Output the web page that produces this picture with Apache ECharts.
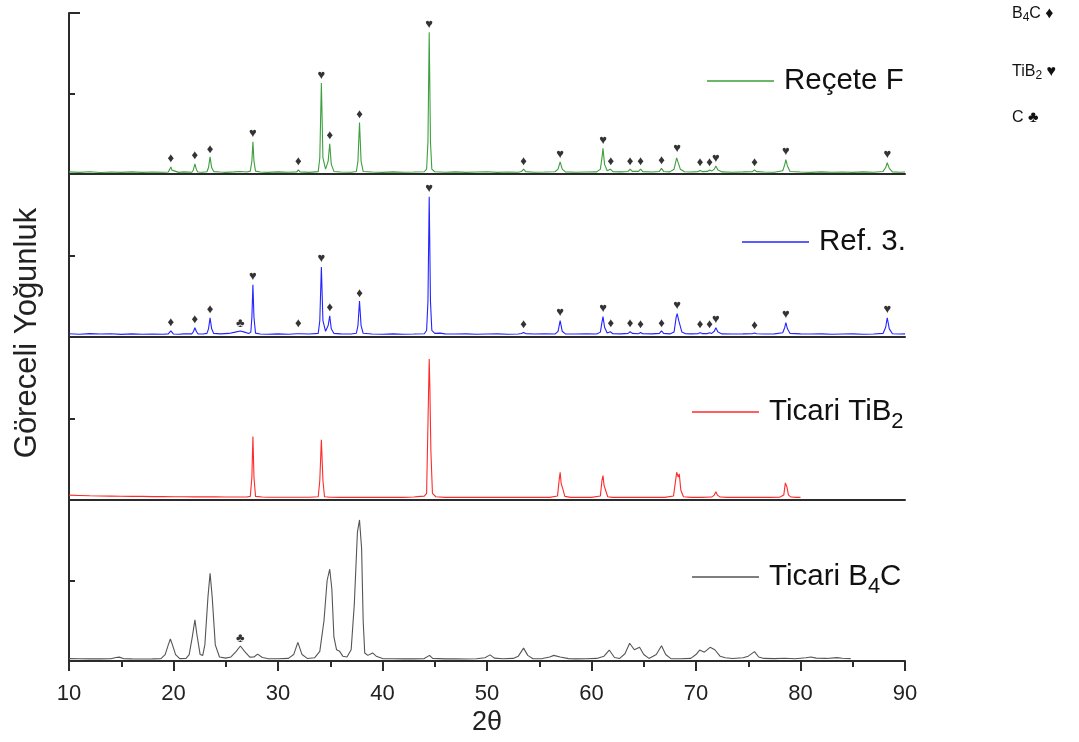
<!DOCTYPE html>
<html>
<head>
<meta charset="utf-8">
<script src="https://cdn.jsdelivr.net/npm/echarts@6/dist/echarts.min.js"></script>
<style>
  html, body { margin: 0; padding: 0; background: #fff; }
  #chart { width: 1079px; height: 742px; }
</style>
</head>
<body>
<div id="chart"></div>
<script>
// XRD patterns: [2θ, relative intensity (% of panel height)]
const recipeF = [
  [10,1.3],[11,1.0],[12,1.4],[13,0.9],[14,1.2],[15,1.0],[16,1.3],[17,1.0],[18,1.2],[19,1.1],
  [19.5,1.2],[19.65,2.4],[19.75,4.4],[19.85,2.4],[20.0,1.2],[20.5,1.0],[21,1.3],[21.75,1.1],
  [21.9,2.5],[22.05,6.3],[22.2,2.5],[22.35,1.2],[22.8,1.1],[23.2,1.4],[23.35,4.0],[23.5,10.6],
  [23.65,4.0],[23.85,1.5],[24.5,1.2],[25,1.0],[25.8,1.3],[26.4,1.6],[27,1.2],[27.35,1.8],
  [27.5,8],[27.6,20],[27.7,8],[27.85,1.8],[28.3,1.2],[29,1.0],[30,1.3],[31,1.1],[31.8,1.3],
  [31.95,2.6],[32.1,1.3],[33,1.0],[33.85,1.5],[34.0,10],[34.15,56.5],[34.3,10],[34.55,3],
  [34.8,8],[34.95,18.8],[35.1,6],[35.35,1.6],[36,1.2],[37,1.1],[37.5,1.6],[37.65,8],[37.8,32],
  [37.95,8],[38.15,1.6],[39,1.2],[40,1.0],[41,1.3],[42,1.1],[43,1.2],[44,1.4],[44.22,3],
  [44.35,20],[44.47,88],[44.59,20],[44.72,3],[45,1.4],[46,1.1],[47,1.3],[48,1.0],[49,1.2],
  [50,1.4],[51,1.0],[52,1.2],[53,1.1],[53.3,1.5],[53.5,3],[53.7,1.5],[54.5,1.1],[55.5,1.2],
  [56.5,1.4],[56.8,3],[57.0,7.5],[57.2,3],[57.5,1.3],[58.5,1.1],[59.5,1.2],[60.5,1.3],
  [60.85,3],[61.0,10],[61.1,16],[61.25,6],[61.5,2],[61.8,3],[62.05,1.5],[62.8,1.3],[63.5,1.6],
  [63.7,3],[63.9,1.6],[64.5,1.6],[64.7,3],[64.9,1.5],[65.8,1.2],[66.5,1.6],[66.7,3.5],
  [66.9,1.6],[67.5,1.3],[67.9,3],[68.15,10],[68.3,11],[68.5,3],[68.9,1.4],[69.5,1.2],
  [70.2,1.5],[70.4,2.2],[70.6,1.5],[71.1,1.6],[71.3,2.5],[71.5,1.8],[71.75,3],[71.9,5],
  [72.1,2.5],[72.5,1.3],[73.5,1.1],[74.5,1.3],[75.4,1.5],[75.6,2.5],[75.8,1.5],[76.5,1.2],
  [77.5,1.1],[78.3,2],[78.5,6],[78.6,9],[78.75,5],[79.0,1.6],[80,1.2],[81,1.0],[82,1.3],
  [83,1.1],[84,1.2],[85,1.0],[86,1.3],[87,1.1],[87.9,1.6],[88.15,4],[88.3,7],[88.5,3.5],
  [88.8,1.3],[89.5,1.1],[90,1.2]
];

const ref3 = [
  [10,2.0],[11,1.7],[12,2.1],[13,1.8],[14,2.0],[15,1.6],[16,1.9],[17,1.7],[18,1.8],[19,1.7],
  [19.5,1.9],[19.65,2.8],[19.75,3.8],[19.85,2.8],[20.0,1.8],[20.5,1.7],[21,1.9],[21.75,1.9],
  [21.9,3.2],[22.05,5.7],[22.2,3.2],[22.35,1.9],[22.8,1.8],[23.2,2.2],[23.35,5],[23.5,11.8],
  [23.65,5],[23.85,2.2],[24.5,1.9],[25.3,2.2],[25.9,3.0],[26.4,3.7],[26.8,3.0],[27.2,2.2],
  [27.4,3],[27.5,12],[27.6,32],[27.7,12],[27.85,2.4],[28.3,1.8],[29,1.7],[30,1.9],[31,1.7],
  [31.8,2],[31.95,3.2],[32.1,2],[33,1.8],[33.85,2.2],[34.0,10],[34.15,43],[34.3,10],[34.55,3.5],
  [34.8,7],[34.95,13],[35.1,5],[35.35,2.2],[36,1.9],[37,1.8],[37.5,2.3],[37.65,7],[37.8,22],
  [37.95,7],[38.15,2.3],[39,1.8],[40,1.7],[41,1.9],[42,1.7],[43,1.8],[44,2],[44.22,4],
  [44.35,22],[44.47,86],[44.59,22],[44.72,4],[45,2.2],[45.5,2.4],[46,1.9],[47,1.8],[48,1.9],
  [49,1.7],[50,1.8],[51,1.9],[52,1.7],[53,1.8],[53.3,2.1],[53.5,2.8],[53.7,2.1],[54.5,1.8],
  [55.5,1.9],[56.5,1.8],[56.8,3.5],[57.0,10],[57.2,3.5],[57.5,1.9],[58.5,1.8],[59.5,1.9],
  [60.5,1.8],[60.85,3],[61.0,9],[61.1,12.5],[61.25,6],[61.5,2.5],[61.8,3.2],[62.05,2],
  [62.8,1.9],[63.5,2.2],[63.7,3.2],[63.9,2.2],[64.5,2],[64.7,2.8],[64.9,2],[65.8,1.9],
  [66.5,2.2],[66.7,3.7],[66.9,2.2],[67.5,1.9],[67.9,3],[68.1,12],[68.2,14.3],[68.35,10],
  [68.45,11],[68.65,3],[69,2],[69.5,1.9],[70.2,2.1],[70.4,2.6],[70.6,2.1],[71.1,2.1],
  [71.3,2.6],[71.5,2.2],[71.75,3.5],[71.9,5.7],[72.1,3],[72.5,1.9],[73.5,1.8],[74.5,1.9],
  [75.4,2],[75.6,2.4],[75.8,2],[76.5,1.8],[77.5,1.9],[78.3,2.6],[78.5,6],[78.6,8.8],
  [78.75,5],[79.0,2.2],[80,1.9],[81,1.8],[82,1.9],[83,1.7],[84,1.8],[85,1.9],[86,1.7],
  [87,1.8],[87.9,2.2],[88.15,6],[88.3,11.8],[88.5,5],[88.8,2],[89.5,1.8],[90,1.9]
];

const ticariTiB2 = [
  [10,3.0],[11,2.8],[12,2.6],[13,2.5],[14,2.4],[15,2.3],[16,2.2],[17,2.2],[18,2.1],[19,2.1],
  [20,2.0],[21,2.0],[22,1.9],[23,1.9],[24,1.9],[25,1.8],[26,1.8],[27,1.8],[27.35,2.2],
  [27.5,14],[27.6,39],[27.7,14],[27.85,2.2],[28.5,1.8],[29,1.7],[30,1.7],[31,1.7],[32,1.7],
  [33,1.7],[33.85,2],[34.0,12],[34.15,37],[34.3,12],[34.45,2],[35,1.7],[36,1.6],[37,1.6],
  [38,1.6],[39,1.6],[40,1.6],[41,1.6],[42,1.6],[43,1.8],[43.6,2.2],[44.0,2.4],[44.22,4],
  [44.36,50],[44.47,86.5],[44.53,70],[44.63,30],[44.78,4],[45.1,2],[46,1.6],[47,1.6],
  [48,1.6],[49,1.6],[50,1.6],[51,1.6],[52,1.7],[53,1.6],[54,1.7],[55,1.6],[56,1.6],
  [56.75,2.5],[56.9,12],[57.0,17],[57.1,10],[57.25,7],[57.45,2.2],[58,1.6],[59,1.6],[60,1.6],
  [60.85,2.5],[61.0,12],[61.1,15],[61.2,9],[61.35,6],[61.55,2],[62,1.6],[63,1.6],[64,1.6],
  [65,1.6],[66,1.6],[67,1.6],[67.85,2.5],[68.05,12],[68.15,17],[68.3,14],[68.4,16],
  [68.55,6],[68.8,2],[69.5,1.6],[70.5,1.6],[71.5,1.8],[71.75,3],[71.9,5],[72.05,3],
  [72.3,1.8],[73,1.6],[74,1.6],[75,1.6],[76,1.6],[77,1.6],[78,1.7],[78.4,3],[78.55,10.5],
  [78.7,8],[78.85,3],[79.1,1.8],[79.6,1.6],[80,1.6]
];

const ticariB4C = [
  [10,1.5],[11,1.4],[12,1.3],[13,1.3],[14,1.4],[14.5,2.2],[14.8,2.4],[15.2,1.5],[16,1.3],
  [17,1.2],[18,1.3],[18.8,1.5],[19.2,4],[19.5,10],[19.7,13.7],[19.9,10],[20.2,4],[20.6,1.5],
  [21.2,1.6],[21.5,4],[21.8,15],[22.05,25.5],[22.25,16],[22.55,4],[22.8,3.5],[23.0,10],
  [23.3,40],[23.5,54.5],[23.7,40],[24.0,10],[24.4,2.5],[25,1.8],[25.5,2.5],[26.0,6],
  [26.4,9.3],[26.8,6],[27.3,2.4],[27.7,2.5],[28.05,4.3],[28.5,2.2],[29,1.5],[30,1.4],
  [31,1.6],[31.5,4],[31.9,11.6],[32.3,4],[32.8,1.6],[33.5,2],[34.0,6],[34.4,25],[34.7,50],
  [34.95,57],[35.15,45],[35.35,15],[35.6,7],[35.9,6],[36.2,3],[36.6,2.5],[37.0,7],[37.3,35],
  [37.6,80],[37.8,87.6],[38.0,70],[38.15,25],[38.3,5],[38.6,3.5],[39.05,5],[39.4,3],[40,1.5],
  [41,1.4],[42,1.3],[43,1.3],[44,1.5],[44.5,3.5],[44.8,1.6],[46,1.3],[47,1.3],[48,1.2],
  [49,1.4],[49.8,2],[50.3,3.8],[50.7,1.8],[51.5,1.4],[52.5,1.6],[53.0,3],[53.5,8],[53.9,3.5],
  [54.4,1.4],[55.3,1.5],[56.0,2.5],[56.4,3.5],[57.0,2.5],[57.8,1.5],[58.5,1.3],[59.5,1.4],
  [60.5,1.6],[61.2,3],[61.7,6.8],[62.2,2.2],[62.7,1.6],[63.2,4.5],[63.65,11],[64.1,7],
  [64.6,8.5],[65.0,4],[65.5,1.6],[66.2,4],[66.7,9.5],[67.1,4],[67.6,1.5],[68.5,1.4],
  [69.5,1.6],[70.0,4],[70.35,6.8],[70.8,5.5],[71.35,8.5],[71.8,7],[72.3,3],[72.8,2],
  [73.5,1.6],[74.5,2],[75.0,3],[75.6,5.8],[76.0,2.5],[76.5,1.6],[77.5,1.5],[78.5,1.7],
  [79.5,1.4],[80.5,2],[81,2.5],[81.5,1.8],[82.5,1.6],[83.5,2.1],[84.0,1.7],[84.8,1.5]
];

// Phase markers: [2θ, peak intensity, phase glyph]
const recipeFTags = [
  [19.75,4.4,'♦'],[22.05,6.3,'♦'],[23.5,10.6,'♦'],[27.6,20,'♥'],[31.95,2.6,'♦'],
  [34.15,56.5,'♥'],[34.95,18.8,'♦'],[37.8,32,'♦'],[44.47,88,'♥'],[53.5,3,'♦'],
  [57.0,7.5,'♥'],[61.1,16,'♥'],[61.85,3,'♦'],[63.7,3,'♦'],[64.7,3,'♦'],[66.7,3.5,'♦'],
  [68.2,11,'♥'],[70.4,2.2,'♦'],[71.3,2.5,'♦'],[71.9,5,'♥'],[75.6,2.5,'♦'],[78.6,9,'♥'],
  [88.3,7,'♥']
];
const ref3Tags = [
  [19.75,3.8,'♦'],[22.05,5.7,'♦'],[23.5,11.8,'♦'],[26.4,3.7,'♣'],[27.6,32,'♥'],
  [31.95,3.2,'♦'],[34.15,43,'♥'],[34.95,13,'♦'],[37.8,22,'♦'],[44.47,86,'♥'],
  [53.5,2.8,'♦'],[57.0,10,'♥'],[61.1,12.5,'♥'],[61.85,3.2,'♦'],[63.7,3.2,'♦'],
  [64.7,2.8,'♦'],[66.7,3.7,'♦'],[68.2,14.3,'♥'],[70.4,2.6,'♦'],[71.3,2.6,'♦'],
  [71.9,5.7,'♥'],[75.6,2.4,'♦'],[78.6,8.8,'♥'],[88.3,11.8,'♥']
];
const ticariB4CTags = [[26.4,9.3,'♣']];

const seriesNames = ['Reçete F', 'Ref. 3.', 'Ticari TiB2', 'Ticari B4C'];
const legendLabels = ['{t|Reçete F}', '{t|Ref. 3.}', '{t|Ticari TiB}{s|2}', '{t|Ticari B}{s|4}{u|C}'];
const phaseKey = ['B{s|4}C ♦', 'TiB{s|2} ♥', 'C ♣'];

const FONT = '"Liberation Sans", Arial, sans-serif';
const colors = ['#3d9f3d', '#2424ff', '#ff2a2a', '#555555'];
const panelTop = [13, 174, 337, 500];
const panelHeight = [161, 163, 163, 161];
const legendPos = [[707, 66], [742, 227], [692, 397], [692, 562]];
const keyY = [14, 72, 118];

const datasets = [recipeF, ref3, ticariTiB2, ticariB4C];
const tagSets = [recipeFTags, ref3Tags, [], ticariB4CTags];

const grids = [], xAxes = [], yAxes = [], series = [], legends = [];

for (let i = 0; i < 4; i++) {
  const last = i === 3;
  grids.push({ left: 69, right: 174, top: panelTop[i], height: panelHeight[i] });
  xAxes.push({
    type: 'value', gridIndex: i, min: 10, max: 90, interval: 10,
    axisLine: { show: true, onZero: false, lineStyle: { color: '#2b2b2b', width: 2 } },
    axisTick: { show: last, inside: false, length: 10, lineStyle: { color: '#2b2b2b', width: 2 } },
    minorTick: { show: last, splitNumber: 2, length: 6, lineStyle: { color: '#2b2b2b', width: 2 } },
    axisLabel: { show: last, fontFamily: FONT, fontSize: 22, color: '#222', margin: 22 },
    splitLine: { show: false },
    name: last ? '2θ' : '',
    nameLocation: 'middle', nameGap: 48,
    nameTextStyle: { fontFamily: FONT, fontSize: 27, color: '#222' }
  });
  yAxes.push({
    type: 'value', gridIndex: i, min: 0, max: 100, interval: 100,
    axisLine: { show: true, lineStyle: { color: '#2b2b2b', width: 2 } },
    axisTick: { show: true, inside: true, length: 11, lineStyle: { color: '#2b2b2b', width: 2 } },
    minorTick: { show: true, splitNumber: 2, length: 6, lineStyle: { color: '#2b2b2b', width: 2 } },
    axisLabel: { show: false },
    splitLine: { show: false }
  });
  series.push({
    name: seriesNames[i], type: 'line', xAxisIndex: i, yAxisIndex: i,
    data: datasets[i], symbol: 'none', showSymbol: false, smooth: false,
    lineStyle: { color: colors[i], width: 1.1 }, itemStyle: { color: colors[i] },
    z: 3
  });
  if (tagSets[i].length) {
    series.push({
      type: 'scatter', xAxisIndex: i, yAxisIndex: i, silent: true,
      symbolSize: 1, itemStyle: { color: 'rgba(0,0,0,0)' }, z: 4,
      data: tagSets[i].map(t => ({ value: [t[0], t[1]], label: { formatter: t[2] } })),
      label: { show: true, position: 'top', distance: 1, color: '#000', fontSize: 13, fontFamily: FONT }
    });
  }
  legends.push({
    data: [{ name: seriesNames[i], icon: 'rect' }],
    left: legendPos[i][0], top: legendPos[i][1],
    padding: 0, itemWidth: 67, itemHeight: 1.5, selectedMode: false,
    formatter: () => legendLabels[i],
    textStyle: {
      color: '#111', fontFamily: FONT, fontSize: 29.5,
      rich: {
        t: { fontSize: 29.5, fontFamily: FONT, color: '#111', padding: [0, 0, 0, 5] },
        u: { fontSize: 29.5, fontFamily: FONT, color: '#111' },
        s: { fontSize: 22, fontFamily: FONT, color: '#111', padding: [20, 0, 0, 0] }
      }
    }
  });
}

const graphics = [{
  type: 'text', x: 27, y: 333, rotation: Math.PI / 2,
  style: {
    text: 'Göreceli Yoğunluk', fill: '#222', fontFamily: FONT, fontSize: 31,
    align: 'center', verticalAlign: 'middle'
  }
}];
phaseKey.forEach((txt, k) => {
  graphics.push({
    type: 'text', x: 1012, y: keyY[k],
    style: {
      text: txt, fill: '#111', fontFamily: FONT, fontSize: 16,
      verticalAlign: 'middle',
      rich: {
        s: { fontSize: 12, fontFamily: FONT, fill: '#111', padding: [8, 0, 0, 0] }
      }
    }
  });
});

const chart = echarts.init(document.getElementById('chart'), null, { renderer: 'canvas' });
chart.setOption({
  animation: false,
  backgroundColor: '#fff',
  grid: grids, xAxis: xAxes, yAxis: yAxes,
  legend: legends, series: series, graphic: graphics
});
</script>
</body>
</html>
